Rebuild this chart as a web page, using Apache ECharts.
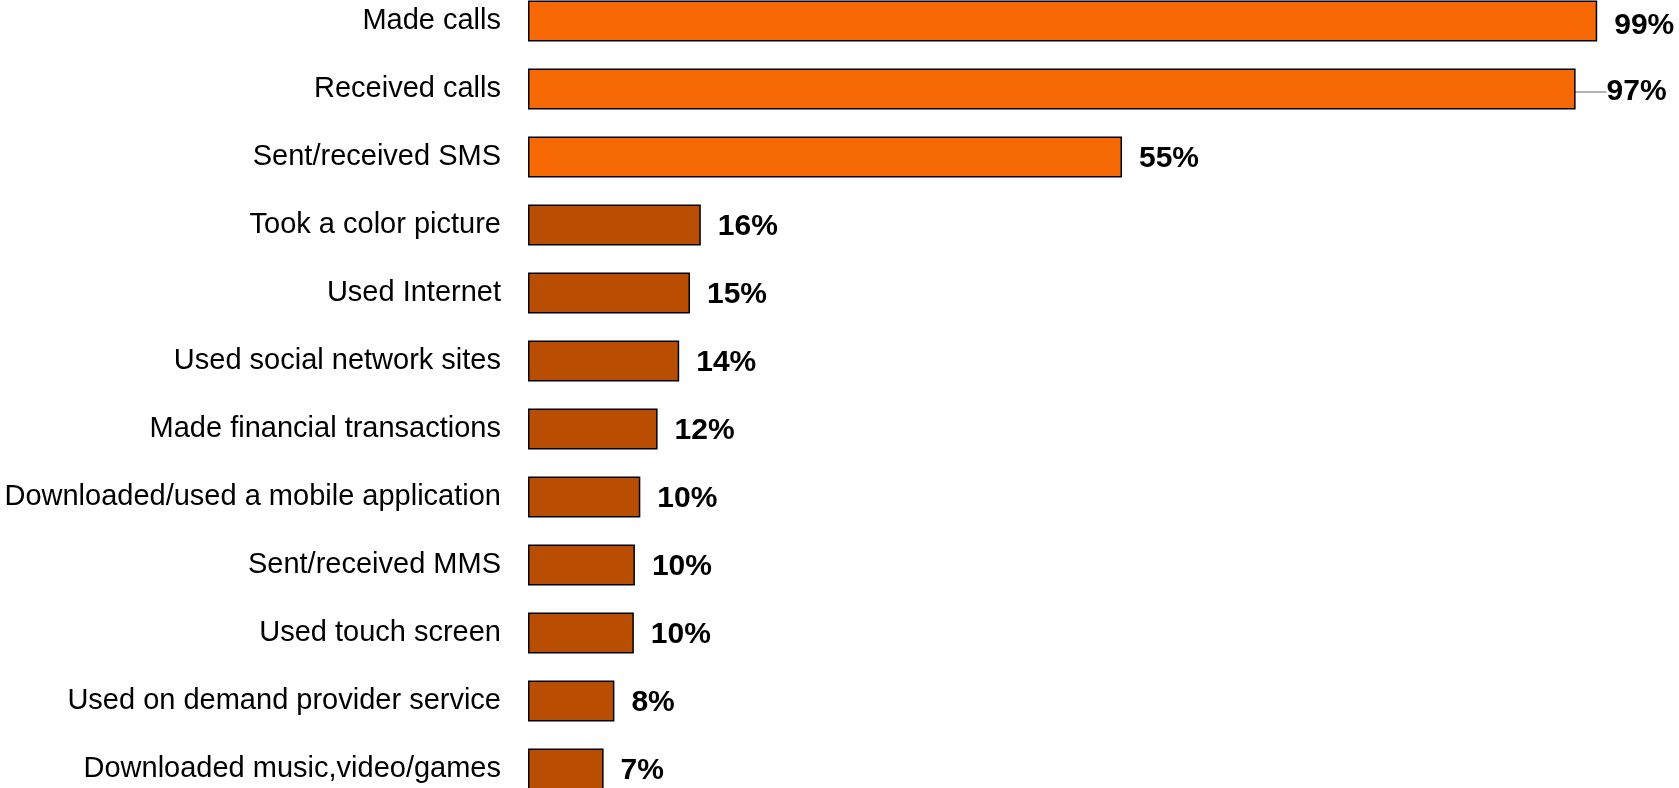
<!DOCTYPE html>
<html>
<head>
<meta charset="utf-8">
<style>
  html, body { margin: 0; padding: 0; background: #ffffff; }
  #chart { width: 1679px; height: 788px; }
</style>
<script src="https://cdn.jsdelivr.net/npm/echarts@6/dist/echarts.min.js"></script>
</head>
<body>
<div id="chart"></div>
<script>
// Mobile phone activities, share of users (%)
const categories = [
  'Made calls',
  'Received calls',
  'Sent/received SMS',
  'Took a color picture',
  'Used Internet',
  'Used social network sites',
  'Made financial transactions',
  'Downloaded/used a mobile application',
  'Sent/received MMS',
  'Used touch screen',
  'Used on demand provider service',
  'Downloaded music,video/games'
];
const shares = [99, 97, 55, 16, 15, 14, 12, 10.4, 9.9, 9.8, 8, 7];
// the three core activities are drawn in the brighter orange
const highlighted = [true, true, true, false, false, false, false, false, false, false, false, false];

const brightOrange = '#F76905';
const darkOrange = '#B94E02';

const chart = echarts.init(document.getElementById('chart'), null, { renderer: 'canvas' });

chart.setOption({
  animation: false,
  backgroundColor: '#ffffff',
  grid: {
    left: 528, right: 71, top: -13, bottom: -15,
    containLabel: false,
    outerBoundsMode: 'none'
  },
  xAxis: {
    type: 'value', min: 0, max: 100, show: false
  },
  yAxis: {
    type: 'category',
    inverse: true,
    data: categories,
    axisLine: { show: false },
    axisTick: { show: false },
    splitLine: { show: false },
    axisLabel: {
      margin: 27,
      color: '#000000',
      fontFamily: 'Liberation Sans, Arial, sans-serif',
      fontSize: 29
    }
  },
  series: [{
    type: 'bar',
    barWidth: 41,
    data: shares.map((v, i) => ({
      value: v,
      itemStyle: { color: highlighted[i] ? brightOrange : darkOrange },
      // the "Received calls" label sits a little further out, tied back by a leader
      labelLine: { show: i === 1 }
    })),
    itemStyle: { borderColor: '#000000', borderWidth: 1.5 },
    label: {
      show: true,
      position: 'right',
      distance: 17,
      color: '#000000',
      fontFamily: 'Liberation Sans, Arial, sans-serif',
      fontWeight: 'bold',
      fontSize: 30,
      formatter: p => Math.round(p.value) + '%'
    },
    labelLine: {
      show: false,
      lineStyle: { color: '#9a9a9a', width: 1.5 }
    },
    labelLayout: p => {
      if (p.dataIndex === 0) return { dy: 5 };
      if (p.dataIndex === 1) return { dx: 14, dy: 3 };
      return { dy: 2 };
    }
  }]
});
</script>
</body>
</html>
